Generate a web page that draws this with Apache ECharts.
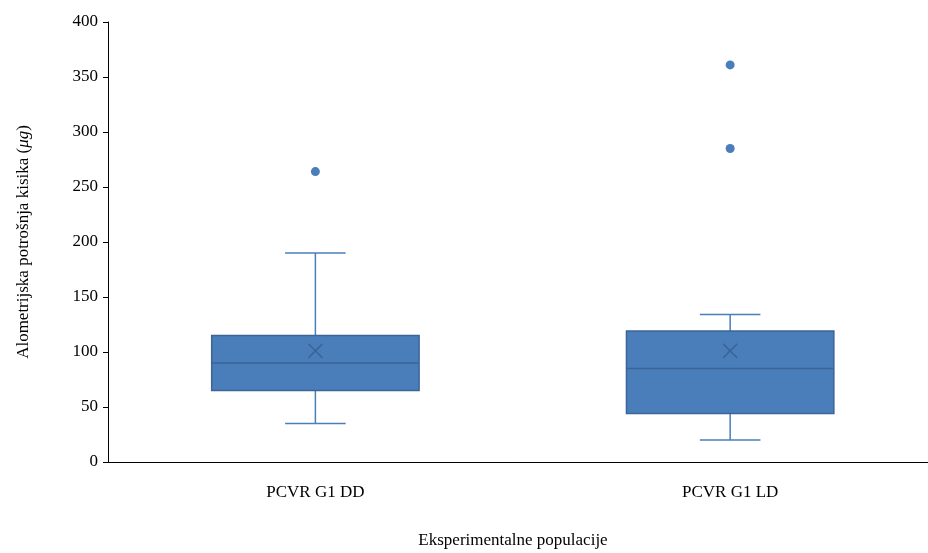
<!DOCTYPE html><html><head><meta charset="utf-8"><script src="https://cdn.jsdelivr.net/npm/echarts@6/dist/echarts.min.js"></script></head><body style="margin:0"><div id="c" style="width:928px;height:553px"></div><script>
const categories=['PCVR G1 DD','PCVR G1 LD'];
// [min whisker, Q1, median, Q3, max whisker]
const boxValues=[[35,65,90,115,190],[20,44,85,119,134]];
const means=[101,101];
const outliers=[[0,264],[1,285],[1,361]];
const yTicks=[0,50,100,150,200,250,300,350,400];
const col='#4a7ebb', dark='#3b6597';
const ch=echarts.init(document.getElementById('c'));
ch.setOption({
 animation:false,
 textStyle:{fontFamily:'Liberation Serif'},
 grid:{left:108,right:0,top:22,bottom:91,outerBoundsMode:'none',containLabel:false},
 xAxis:{type:'value',min:-0.5,max:1.477,splitLine:{show:false},axisTick:{show:false},
  axisLine:{onZero:false,lineStyle:{color:'#000'}},
  axisLabel:{customValues:[0,1],formatter:v=>categories[Math.round(v)]||'',color:'#000',fontSize:17,margin:22,fontFamily:'Liberation Serif'},
  name:'Eksperimentalne populacije',nameLocation:'middle',nameGap:70,nameTextStyle:{color:'#000',fontSize:17,fontFamily:'Liberation Serif',padding:[0,0,0,-10]}},
 yAxis:{type:'value',min:0,max:400,interval:50,splitLine:{show:false},
  axisLine:{show:true,onZero:false,lineStyle:{color:'#000'}},axisTick:{show:true,length:5,lineStyle:{color:'#000'}},
  axisLabel:{color:'#000',fontSize:17,margin:10,fontFamily:'Liberation Serif'},
  name:'{a|Alometrijska potrošnja kisika (}{b|μg}{a|)}',nameLocation:'middle',nameGap:76,
  nameTextStyle:{rich:{a:{fontSize:17,color:'#000',fontFamily:'Liberation Serif'},b:{fontSize:17,color:'#000',fontStyle:'italic',fontFamily:'Liberation Serif'}}}},
 series:[
  {type:'custom',data:boxValues.map((v,i)=>[i,...v]),
   renderItem:(p,api)=>{
    const i=api.value(0);const w=api.size([1,0])[0];const bw=w*0.5,cw=w*0.073;
    const y=k=>api.coord([i,api.value(k)])[1];const x=api.coord([i,0])[0];
    const ls={stroke:col,lineWidth:1.5};
    return {type:'group',children:[
     {type:'line',shape:{x1:x,y1:y(1),x2:x,y2:y(2)},style:ls},
     {type:'line',shape:{x1:x,y1:y(4),x2:x,y2:y(5)},style:ls},
     {type:'line',shape:{x1:x-cw,y1:y(1),x2:x+cw,y2:y(1)},style:ls},
     {type:'line',shape:{x1:x-cw,y1:y(5),x2:x+cw,y2:y(5)},style:ls},
     {type:'rect',shape:{x:x-bw/2,y:y(4),width:bw,height:y(2)-y(4)},style:{fill:col,stroke:dark,lineWidth:1.5}},
     {type:'line',shape:{x1:x-bw/2,y1:y(3),x2:x+bw/2,y2:y(3)},style:{stroke:dark,lineWidth:1.5}}
    ]};}},
  {type:'custom',data:means.map((m,i)=>[i,m]),z:5,
   renderItem:(p,api)=>{const c=api.coord([api.value(0),api.value(1)]);const s=7;
    return {type:'group',children:[
     {type:'line',shape:{x1:c[0]-s,y1:c[1]-s,x2:c[0]+s,y2:c[1]+s},style:{stroke:dark,lineWidth:1.5}},
     {type:'line',shape:{x1:c[0]-s,y1:c[1]+s,x2:c[0]+s,y2:c[1]-s},style:{stroke:dark,lineWidth:1.5}}]};}},
  {type:'scatter',data:outliers,symbolSize:9,itemStyle:{color:col,opacity:1}}
 ]});
</script></body></html>
